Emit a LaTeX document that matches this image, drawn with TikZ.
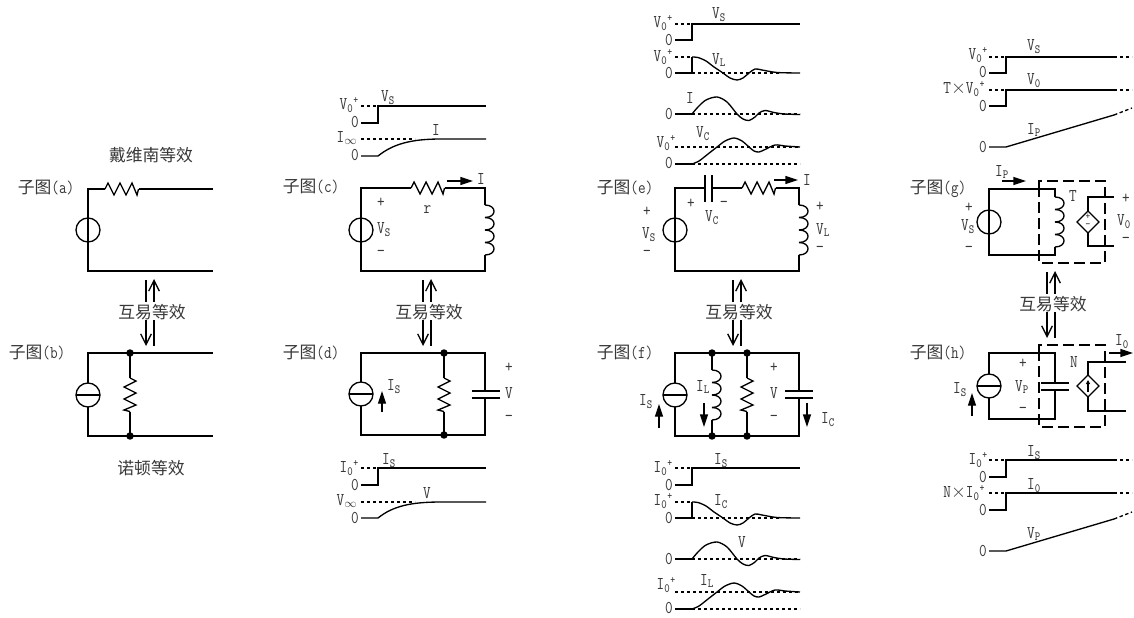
\documentclass[tikz,border=0pt]{standalone}
\usepackage{fontspec}
\usepackage{tikz}
\usetikzlibrary{calc}
\usetikzlibrary{arrows.meta}
\setmonofont[FakeStretch=0.82]{Latin Modern Mono}
\newfontfamily\cjk{Noto Sans CJK SC}
\definecolor{ttttqq}{rgb}{0.22,0.22,0.22}
\tikzstyle{every node}=[font=\fontsize{13.5}{14}\selectfont\ttfamily,inner sep=0pt,text=ttttqq]
\tikzstyle{wire}=[line width=1pt]
\tikzstyle{dash wave}=[line width=1pt,dash pattern=on 2.6pt off 1.9pt]
\tikzstyle{dash box}=[line width=1pt,dash pattern=on 8pt off 4pt]
\tikzstyle{solid arrow}=[line width=1pt,-{Triangle[length=9.5pt,width=6pt]}]
\tikzstyle{open arrow}=[line width=1pt,-{Straight Barb[length=8pt,width=8pt]}]
\newcommand{\sS}[1]{\textsubscript{#1}}
\newcommand{\sU}{\raisebox{0.32em}{\fontsize{8.5}{9}\selectfont +}}
\newcommand{\tms}{{\fontsize{15}{15}\selectfont$\times$}}
\newcommand{\zhong}[1]{{\cjk\fontsize{12.6}{13}\selectfont #1}}
\newcommand{\lab}[4]{\node (#1) at (#2,#3) {#4};}
\newcommand{\volt}[2]{\draw [wire] (#1,#2) circle (9pt);}
\newcommand{\curr}[2]{\draw [wire,fill=white] (#1,#2) circle (9pt); \draw [wire] (#1-12,#2) -- (#1+12,#2);}
\newcommand{\resH}[2]{\draw [wire] (#1,#2) -- ++(3,-6) -- ++(6,12) -- ++(6,-12) -- ++(6,12) -- ++(6,-12) -- ++(5,12) -- ++(1.5,-6);}
\newcommand{\resV}[2]{\draw [wire] (#1,#2) -- ++(6,3) -- ++(-12,6) -- ++(12,6) -- ++(-12,6) -- ++(12,6) -- ++(-12,5) -- ++(6,1.5);}
\newcommand{\coil}[2]{\foreach \k in {0,1,2,3} {\draw [wire] (#1,#2+12.5*\k) .. controls (#1+12,#2+12.5*\k) and (#1+12,#2+12.5+12.5*\k) .. (#1,#2+12.5+12.5*\k);}}
\newcommand{\capV}[3]{\draw [wire] (#1-14,#2) -- (#1+14,#2); \draw [wire] (#1-14,#3) -- (#1+14,#3);}
\newcommand{\jn}[2]{\fill (#1,#2) circle (2.8pt);}
\newcommand{\swap}[3]{
\draw [wire] (#1,#3-32) -- (#1,#3-10);
\draw [open arrow] (#1+8,#3-10) -- (#1+8,#3-33);
\draw [open arrow] (#1,#3+8) -- (#1,#3+34);
\draw [wire] (#1+8,#3+8) -- (#1+8,#3+34);
\lab{#2}{#1+6}{#3}{\zhong{互易等效}}}
% step from 0 up to the final value
\newcommand{\stepw}[4]{
\draw [dash wave] (#1,#2) -- (#1+17,#2);
\draw [wire] (#1,#3) -- (#1+17,#3) -- (#1+17,#2) -- (#4,#2);}
% first order rise
\newcommand{\risew}[3]{
\draw [dash wave] (#1,#2) -- (#1+54,#2);
\draw [wire] (#1,#3) -- (#1+17,#3) .. controls (#1+32,#3-12) and (#1+50,#2) .. (#1+80,#2) -- (#1+125,#2);}
% ringing waves, x0 at the step, y0 at zero
\newcommand{\ringA}[2]{
\draw [dash wave] (#1,#2) -- (#1+88,#2);
\draw [wire] (#1-17,#2) -- (#1,#2) -- (#1,#2-16);
\draw [wire,shift={(#1,#2)}] plot[smooth] coordinates {(0,-16) (6,-15.5) (14,-12) (22,-6) (31,0) (38,5) (45,7) (51,5) (57,0) (63,-4) (70,-3) (85,-0.5) (108,0)};}
\newcommand{\ringB}[2]{
\draw [dash wave] (#1,#2) -- (#1+108,#2);
\draw [wire] (#1-17,#2) -- (#1,#2);
\draw [wire,shift={(#1,#2)}] plot[smooth] coordinates {(0,0) (6,-7) (14,-14) (25,-17) (35,-12) (45,0) (51,5) (57,6.5) (63,3) (67,-1) (73,-3.5) (82,-1.5) (92,0) (108,0.5)};}
\newcommand{\ringC}[2]{
\draw [dash wave] (#1-17,#2-17) -- (#1+108,#2-17);
\draw [dash wave] (#1,#2) -- (#1+108,#2);
\draw [wire] (#1-17,#2) -- (#1,#2);
\draw [wire,shift={(#1,#2)}] plot[smooth] coordinates {(0,0) (7,-3) (16,-10) (25,-17) (33,-23) (42,-26) (50,-23) (57,-17) (62,-13) (67,-12) (73,-14.5) (83,-19) (93,-18) (108,-17)};}
% slope with dashed ends
\newcommand{\slopew}[2]{
\draw [wire] (#1,#2) -- (#1+17,#2) -- (#1+125,#2-32);
\draw [dash wave] (#1+125,#2-32) -- (#1+143,#2-39);}
\newcommand{\flatw}[2]{\draw [dash wave] (#1+125,#2) -- (#1+143,#2);}
% dependent source
\newcommand{\dep}[2]{\draw [wire,fill=white] (#1,#2-11) -- (#1+11,#2) -- (#1,#2+11) -- (#1-11,#2) -- cycle;}

\begin{document}
\begin{tikzpicture}[line cap=butt,line join=miter,x=0.75pt,y=-0.75pt]
\useasboundingbox (0,0) rectangle (1134,617);
\fill [white] (0,0) rectangle (1134,617);

% a
\draw [wire] (213,189) -- (138.5,189);
\draw [wire] (105,189) -- (88,189) -- (88,271) -- (213,271);
\resH{105}{189}
\volt{88}{230}
\lab{titleA}{151}{155}{\zhong{戴维南等效}}
\lab{nameA}{46}{188}{\zhong{子图}(a)}
\swap{146}{swapAB}{312}
% b
\draw [wire] (213,353) -- (88,353) -- (88,436) -- (213,436);
\draw [wire] (130,353) -- (130,378);
\draw [wire] (130,411.5) -- (130,436);
\resV{130}{378}
\curr{88}{395}
\jn{130}{353}
\jn{130}{436}
\lab{nameB}{37}{353}{\zhong{子图}(b)}
\lab{titleB}{151}{468}{\zhong{诺顿等效}}

% c
\stepw{361}{106}{123}{486}
\lab{cA}{349}{105}{V\sS{0}\sU}
\lab{cB}{355}{122}{0}
\lab{cC}{388}{98}{V\sS{S}}
\risew{361}{139}{156}
\lab{cD}{347}{138}{I$_\infty$}
\lab{cE}{355}{155}{0}
\lab{cF}{436}{130}{I}
\draw [wire] (411,188) -- (361,188) -- (361,271) -- (485,271) -- (485,255);
\draw [wire] (444.5,188) -- (485,188) -- (485,205);
\resH{411}{188}
\coil{485}{205}
\volt{361}{230}
\draw [solid arrow] (447,181) -- (473,181);
\lab{cG}{481}{179}{I}
\lab{cH}{427.5}{210}{r}
\lab{cI}{381}{203}{+}
\lab{cJ}{384}{230}{V\sS{S}}
\lab{cK}{381}{253}{\textminus}
\lab{nameC}{311}{187}{\zhong{子图}(c)}
\swap{423}{swapCD}{312}
% d
\draw [wire] (361,353) rectangle (485,435);
\draw [wire,fill=white] (361,394) circle (9pt);
\draw [wire] (349,394) -- (373,394);
\draw [wire] (444,353) -- (444,378);
\draw [wire] (444,411.5) -- (444,435);
\resV{444}{378}
\jn{444}{353}
\jn{444}{435}
\fill [white] (471,391) rectangle (500,398);
\capV{485.5}{391}{398}
\draw [solid arrow] (382,412) -- (382,391);
\lab{dA}{394}{387}{I\sS{S}}
\lab{dB}{509}{368}{+}
\lab{dC}{509}{393}{V}
\lab{dD}{509}{418}{\textminus}
\lab{nameD}{311}{353}{\zhong{子图}(d)}
\stepw{361}{468}{485}{486}
\lab{dE}{349}{468}{I\sS{0}\sU}
\lab{dF}{355}{485}{0}
\lab{dG}{389}{461}{I\sS{S}}
\risew{361}{502}{518}
\lab{dH}{347}{501}{V$_\infty$}
\lab{dI}{355}{518}{0}
\lab{dJ}{427}{493}{V}

% e
\stepw{675}{24}{40}{800}
\lab{eA}{663}{23}{V\sS{0}\sU}
\lab{eB}{669}{40}{0}
\lab{eC}{719}{15}{V\sS{S}}
\ringA{692}{73}
\draw [dash wave] (675,57) -- (692,57);
\lab{eD}{663}{57}{V\sS{0}\sU}
\lab{eE}{669}{73}{0}
\lab{eF}{719}{60}{V\sS{L}}
\ringB{692}{114}
\lab{eG}{669}{114}{0}
\lab{eH}{690}{98}{I}
\ringC{692}{164}
\lab{eI}{666}{143}{V\sS{0}\sU}
\lab{eJ}{669}{163}{0}
\lab{eK}{703}{134}{V\sS{C}}
\draw [wire] (705,188) -- (675,188) -- (675,271) -- (799,271) -- (799,255);
\draw [wire] (712,188) -- (742,188);
\draw [wire] (775.5,188) -- (799,188) -- (799,205);
\draw [wire] (705,175) -- (705,202);
\draw [wire] (712,175) -- (712,202);
\resH{742}{188}
\coil{799}{205}
\volt{675}{230}
\draw [solid arrow] (774,180) -- (798,180);
\lab{eL}{807}{180}{I}
\lab{eM}{691}{204}{+}
\lab{eN}{724}{204}{\textminus}
\lab{eO}{712}{218}{V\sS{C}}
\lab{eP}{647}{212}{+}
\lab{eQ}{649}{235}{V\sS{S}}
\lab{eR}{647}{253}{\textminus}
\lab{eS}{820}{207}{+}
\lab{eT}{823}{230}{V\sS{L}}
\lab{eU}{820}{249}{\textminus}
\lab{nameE}{625}{188}{\zhong{子图}(e)}
\swap{733}{swapEF}{312}
% f
\draw [wire] (675,353) rectangle (799,436);
\curr{675}{395}
\draw [wire] (712,353) -- (712,370);
\draw [wire] (712,420) -- (712,436);
\coil{712}{370}
\draw [wire] (747,353) -- (747,378);
\draw [wire] (747,411.5) -- (747,436);
\resV{747}{378}
\jn{712}{353}
\jn{712}{436}
\jn{747}{353}
\jn{747}{436}
\fill [white] (785,391) rectangle (813,398);
\capV{799}{391}{398}
\draw [solid arrow] (659,428) -- (659,404);
\draw [solid arrow] (704,403) -- (704,427);
\draw [solid arrow] (807,403) -- (807,427);
\lab{fA}{646}{402}{I\sS{S}}
\lab{fB}{703}{387}{I\sS{L}}
\lab{fC}{774}{368}{+}
\lab{fD}{774}{393}{V}
\lab{fE}{774}{418}{\textminus}
\lab{fF}{828}{420}{I\sS{C}}
\lab{nameF}{625}{353}{\zhong{子图}(f)}
\stepw{675}{468}{485}{800}
\lab{fG}{663}{468}{I\sS{0}\sU}
\lab{fH}{669}{485}{0}
\lab{fI}{721}{461}{I\sS{S}}
\ringA{692}{518}
\draw [dash wave] (675,502) -- (692,502);
\lab{fJ}{663}{501}{I\sS{0}\sU}
\lab{fK}{669}{518}{0}
\lab{fL}{721}{502}{I\sS{C}}
\ringB{692}{559}
\lab{fM}{669}{559}{0}
\lab{fN}{742}{542}{V}
\ringC{692}{609}
\lab{fO}{666}{585}{I\sS{0}\sU}
\lab{fP}{669}{608}{0}
\lab{fQ}{707}{581}{I\sS{L}}

% g
\stepw{989}{57}{73}{1114}
\flatw{989}{57}
\lab{gA}{978}{55}{V\sS{0}\sU}
\lab{gB}{983}{72}{0}
\lab{gC}{1034}{47}{V\sS{S}}
\stepw{989}{90}{106}{1114}
\flatw{989}{90}
\lab{gD}{964}{89}{T\tms V\sS{0}\sU}
\lab{gE}{983}{106}{0}
\lab{gF}{1034}{81}{V\sS{0}}
\slopew{989}{147}
\lab{gG}{983}{147}{0}
\lab{gH}{1034}{130}{I\sS{P}}
\draw [wire] (1055,197) -- (1055,189) -- (989,189) -- (989,255) -- (1055,255) -- (1055,247);
\coil{1055}{197}
\volt{989}{222}
\draw [dash box] (1039,189) -- (1039,181) -- (1105,181) -- (1105,263) -- (1039,263) -- cycle;
\draw [wire] (1114,197) -- (1088,197) -- (1088,246) -- (1114,246);
\dep{1088}{222}
\lab{gI}{1088}{217}{\fontsize{8}{8}\selectfont +}
\lab{gJ}{1088}{226}{\fontsize{8}{8}\selectfont \textminus}
\draw [solid arrow] (1002,181) -- (1026,181);
\lab{gK}{1002}{172}{I\sS{P}}
\lab{gL}{1073}{196}{T}
\lab{gM}{1126}{199}{+}
\lab{gN}{1124}{222}{V\sS{0}}
\lab{gO}{1126}{240}{\textminus}
\lab{gP}{969}{208}{+}
\lab{gQ}{968}{227}{V\sS{S}}
\lab{gR}{969}{249}{\textminus}
\lab{nameG}{938}{189}{\zhong{子图}(g)}
\swap{1047}{swapGH}{304}
% h
\draw [wire] (989,353) rectangle (1055,419);
\fill [white] (1041,383) rectangle (1069,390);
\capV{1055}{383}{390}
\curr{989}{386}
\draw [dash box] (1039,353) -- (1039,345) -- (1105,345) -- (1105,427) -- (1039,427) -- cycle;
\draw [wire] (1126,362) -- (1088,362) -- (1088,411) -- (1126,411);
\dep{1088}{386}
\draw [wire,-{Triangle[length=3pt,width=3pt]}] (1088,392) -- (1088,380);
\draw [solid arrow] (972,416) -- (972,393);
\draw [solid arrow] (1109,353) -- (1133,353);
\lab{hA}{1122}{342}{I\sS{0}}
\lab{hB}{1074}{362}{N}
\lab{hC}{1023}{364}{+}
\lab{hD}{1022}{387}{V\sS{P}}
\lab{hE}{1023}{410}{\textminus}
\lab{hF}{960}{390}{I\sS{S}}
\lab{nameH}{938}{353}{\zhong{子图}(h)}
\stepw{989}{460}{477}{1114}
\flatw{989}{460}
\lab{hG}{978}{460}{I\sS{0}\sU}
\lab{hH}{983}{477}{0}
\lab{hI}{1034}{453}{I\sS{S}}
\stepw{989}{493}{510}{1114}
\flatw{989}{493}
\lab{hJ}{964}{493}{N\tms I\sS{0}\sU}
\lab{hK}{983}{510}{0}
\lab{hL}{1034}{486}{I\sS{0}}
\slopew{989}{551}
\lab{hM}{983}{551}{0}
\lab{hN}{1034}{534}{V\sS{P}}
\end{tikzpicture}
\end{document}
